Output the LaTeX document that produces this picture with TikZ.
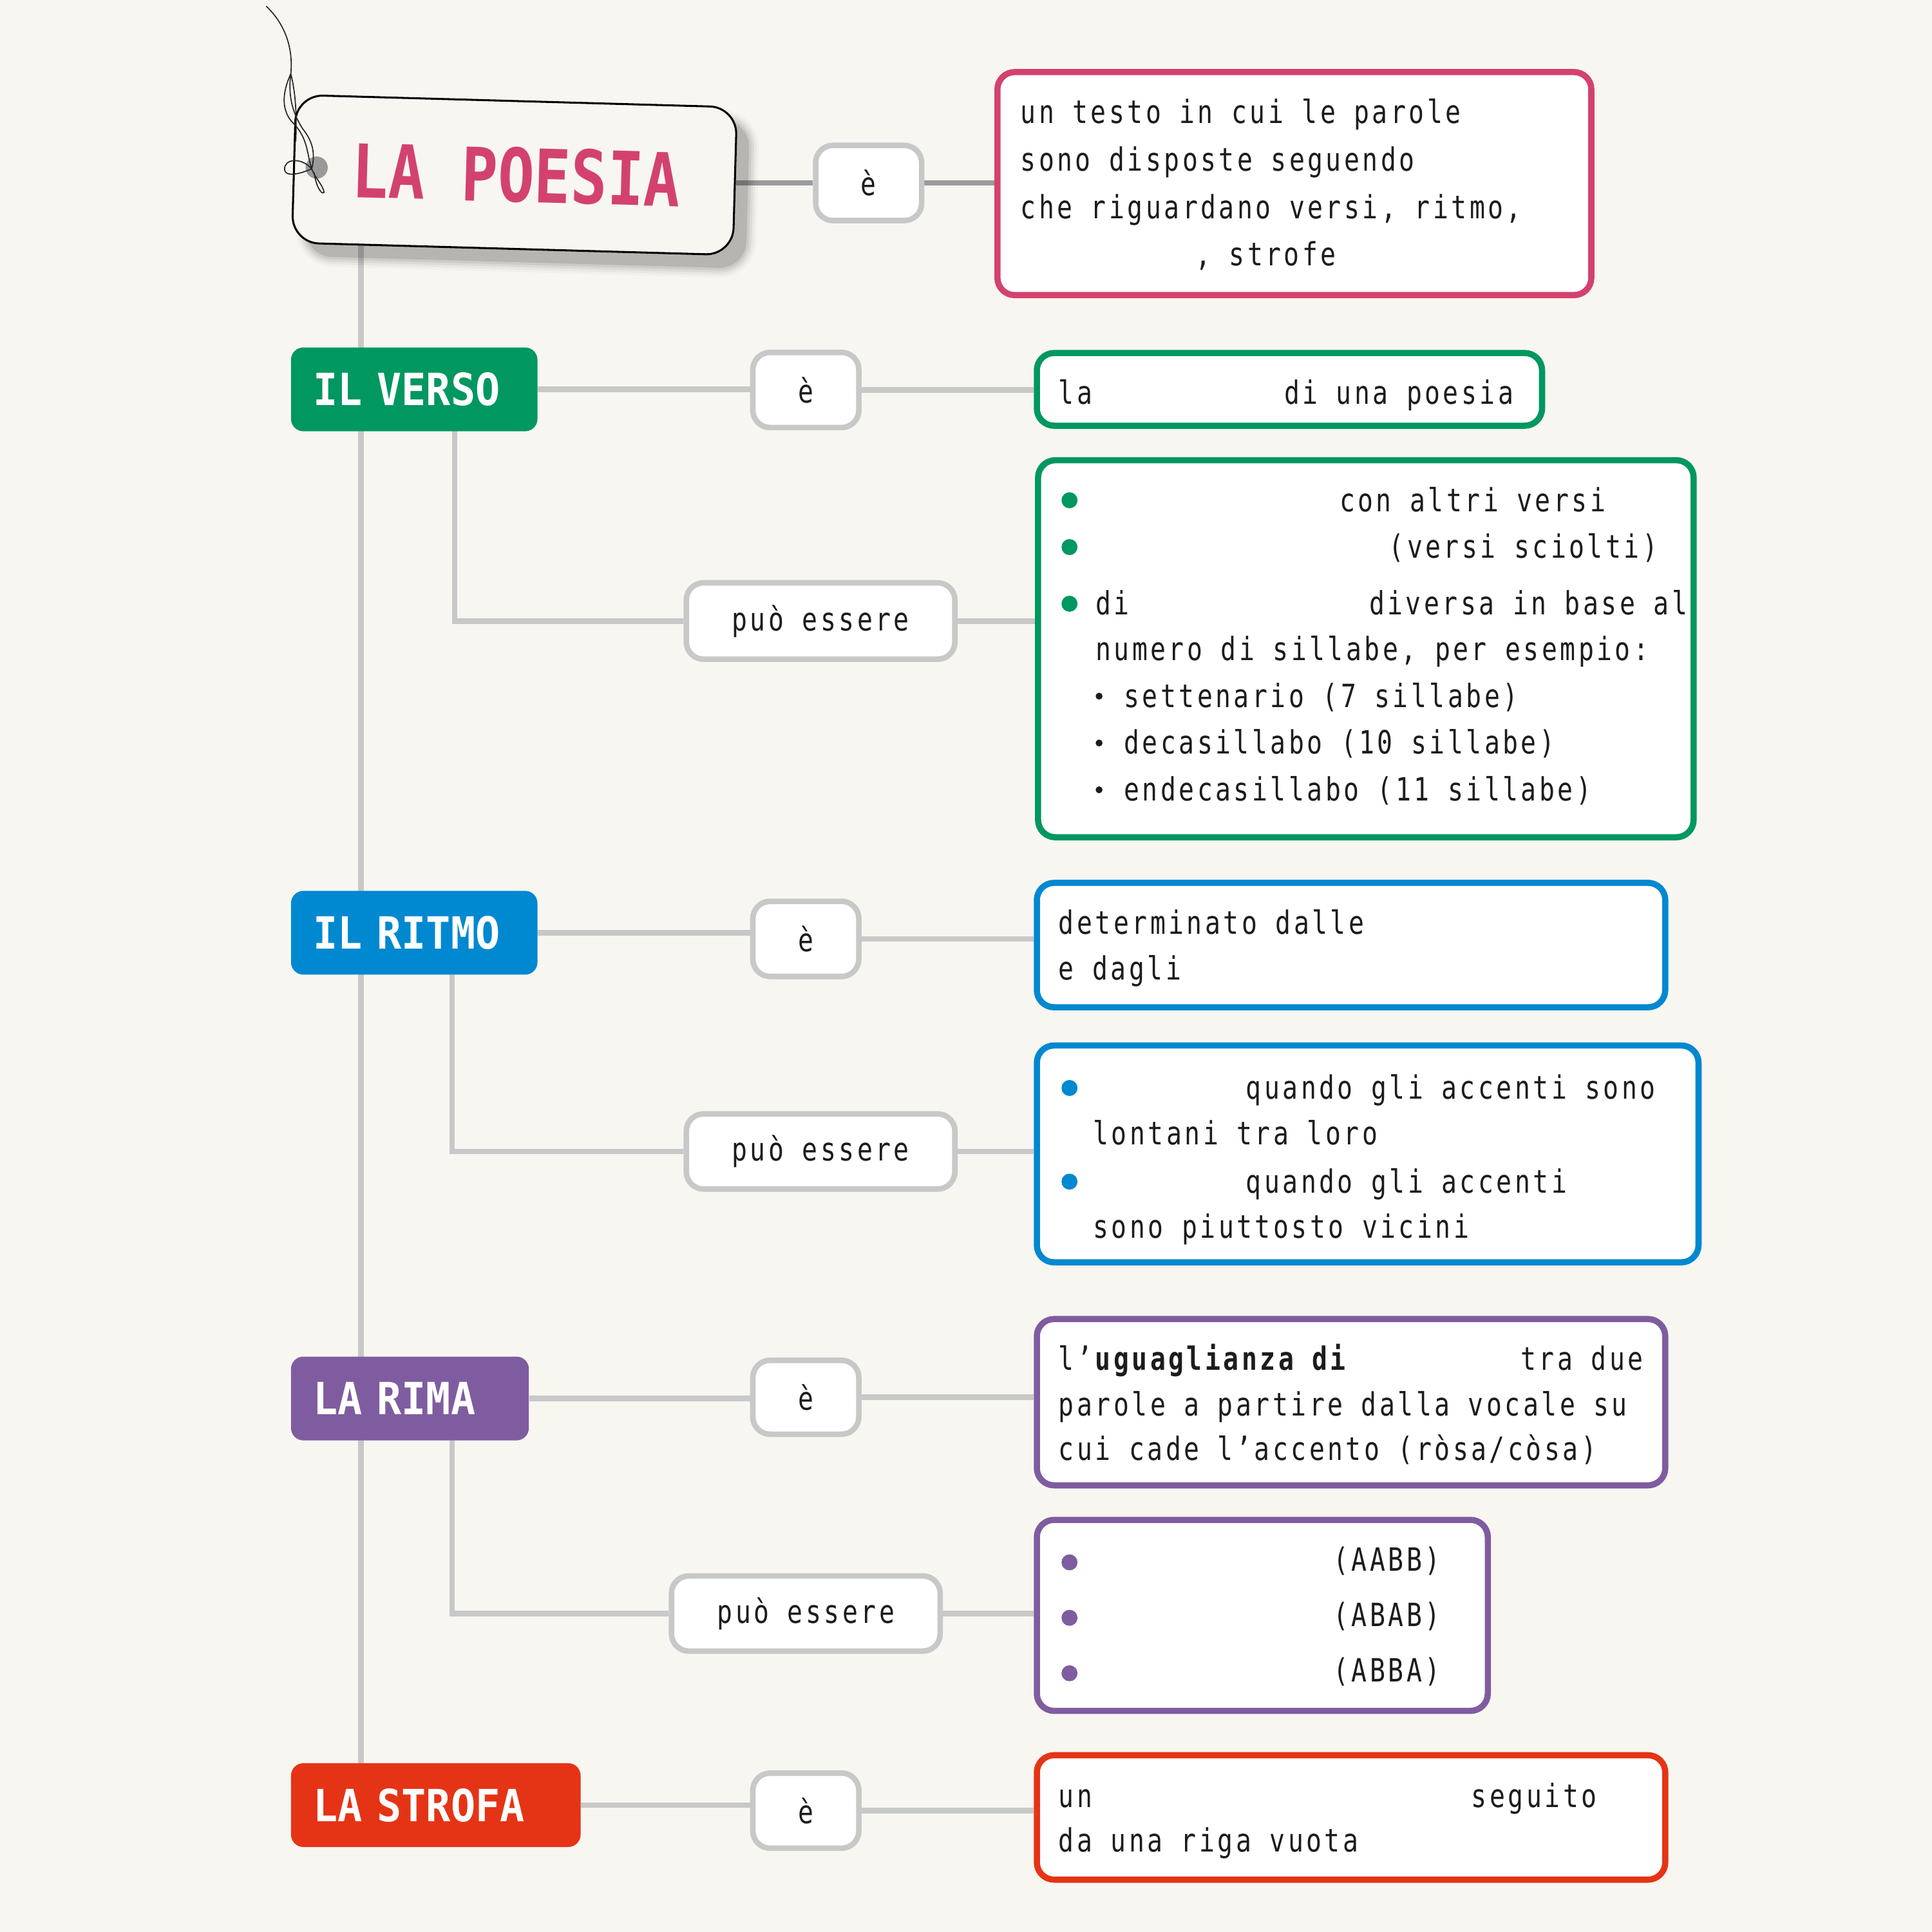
\documentclass[tikz,border=0pt]{standalone}
\usepackage{fontspec}
\setmainfont{DejaVu Sans Mono}
\newfontfamily\bodyf{DejaVu Sans Mono}[FakeStretch=0.8, LetterSpace=9]
\newfontfamily\headf{DejaVu Sans Mono}[FakeStretch=0.92]
\newfontfamily\titlef{DejaVu Sans Mono}[FakeStretch=0.82]
\usetikzlibrary{backgrounds}
\definecolor{bgc}{HTML}{F8F6F1}
\definecolor{pinkc}{HTML}{D3426F}
\definecolor{greenc}{HTML}{009760}
\definecolor{bluec}{HTML}{0088D0}
\definecolor{purplec}{HTML}{7F5CA0}
\definecolor{redc}{HTML}{E53415}
\definecolor{linec}{HTML}{C8C8C8}
\definecolor{tlinec}{HTML}{9B9B9B}
\definecolor{ink}{HTML}{1C1C1C}
\pgfdeclarelayer{back}
\pgfdeclarelayer{lines}
\pgfsetlayers{back,lines,main}
\tikzset{
  conn/.style={draw=linec, line width=4.5},
  tconn/.style={draw=tlinec, line width=4.5},
  ebox/.style={draw=linec, line width=4.5, fill=white, rounded corners=14, inner sep=0,
    font=\bodyf\fontsize{26}{30}\selectfont, text=ink},
  dbox/.style={draw=#1, line width=5, fill=white, rounded corners=14, inner sep=0},
  head/.style={fill=#1, rounded corners=10, inner xsep=18, inner ysep=0, anchor=west,
    minimum height=68, align=left, text=white, font=\headf\fontsize{36}{40}\selectfont\bfseries},
  txt/.style={anchor=base west, inner sep=0, text=ink, font=\bodyf\fontsize{26}{30}\selectfont},
  strng/.style={draw=black!85, line width=0.9},
}
\begin{document}
\begin{tikzpicture}[x=1pt,y=-1pt]
\begin{pgfonlayer}{back}
\fill[bgc] (0,0) rectangle (1568,1568);
\end{pgfonlayer}
\useasboundingbox (0,0) rectangle (1568,1568);

% ---- title tag with shadow
\foreach \s/\o in {0/0.10,4/0.07,8/0.05,12/0.035,16/0.025}
  \node[rotate=-1.6, minimum width=358+\s, minimum height=120+\s, rounded corners=22+\s/2,
        fill=black, opacity=\o, inner sep=0] at (428,153) {};
\node[rotate=-1.6, minimum width=358, minimum height=120, rounded corners=22, draw=black,
      line width=1.6, fill=bgc, inner sep=0, text=pinkc,
      font=\titlef\fontsize{60}{62}\selectfont\bfseries] (tag) at (417.5,142) {\hspace*{3pt}LA POESIA};
\fill[black!40] (257,136) circle[radius=9];
\draw[strng] (216,5) .. controls (232,20) and (238,40) .. (236,60)
  .. controls (234,75) and (236,90) .. (246,105) .. controls (254,115) and (256,125) .. (253,137);
\draw[strng] (236,60) .. controls (229,75) and (228,90) .. (238,100)
  .. controls (250,112) and (249,125) .. (253,137);
\draw[strng] (253,137) .. controls (244,127) and (230,129) .. (231,138)
  .. controls (232,144) and (244,141) .. (253,137);
\draw[strng] (253,137) .. controls (256,145) and (262,150) .. (263,156)
  .. controls (261,159) and (256,150) .. (255,140);
\draw[strng] (236,60) .. controls (240,75) and (241,95) .. (240,115);

% ---- è + definition of the poem
\node[ebox, minimum width=86, minimum height=61] (e0) at (705,148.5) {è};
\node[dbox=pinkc, minimum width=482, minimum height=181] (def0) at (1050.5,149) {};
\node[txt] (t01) at (828,100) {un testo in cui le parole};
\node[txt] (t02) at (828,138.6) {sono disposte seguendo};
\node[txt] (t03) at (828,177.2) {che riguardano versi, ritmo,};
\node[txt] (t04) at (970,215.8) {, strofe};

% ---- IL VERSO
\node[head=greenc, text width=164] (verso) at (236,316) {IL VERSO};
\node[ebox, minimum width=86, minimum height=61] (e1) at (654,316.5) {è};
\node[dbox=greenc, minimum width=410, minimum height=59] (d1) at (1046.5,316) {};
\node[txt] (t11) at (859,328) {la};
\node[txt] (t12) at (1042,328) {di una poesia};
\node[ebox, minimum width=218, minimum height=62] (p1) at (666,504) {può essere};
\node[dbox=greenc, minimum width=532, minimum height=306] (d2) at (1108.5,526.5) {};
\fill[greenc] (868,406) circle[radius=6.5];
\fill[greenc] (868,444) circle[radius=6.5];
\fill[greenc] (868,490) circle[radius=6.5];
\node[txt] (t21) at (1087,415) {con altri versi};
\node[txt] (t22) at (1127,453) {(versi sciolti)};
\node[txt] (t23) at (889,499) {di};
\node[txt] (t24) at (1111,499) {diversa in base al};
\node[txt] (t25) at (889,536) {numero di sillabe, per esempio:};
\fill[ink] (892,565) circle[radius=2.8];
\fill[ink] (892,603) circle[radius=2.8];
\fill[ink] (892,641) circle[radius=2.8];
\node[txt] (t26) at (912,574) {settenario (7 sillabe)};
\node[txt] (t27) at (912,612) {decasillabo (10 sillabe)};
\node[txt] (t28) at (912,650) {endecasillabo (11 sillabe)};

% ---- IL RITMO
\node[head=bluec, text width=164] (ritmo) at (236,757) {IL RITMO};
\node[ebox, minimum width=86, minimum height=61] (e2) at (654,762) {è};
\node[dbox=bluec, minimum width=510, minimum height=101] (d3) at (1096.5,767) {};
\node[txt] (t31) at (859,758) {determinato dalle};
\node[txt] (t32) at (859,795) {e dagli};
\node[ebox, minimum width=218, minimum height=61] (p2) at (666,934.5) {può essere};
\node[dbox=bluec, minimum width=537, minimum height=176] (d4) at (1110,936.5) {};
\fill[bluec] (868,883) circle[radius=6.5];
\fill[bluec] (868,959) circle[radius=6.5];
\node[txt] (t41) at (1011,892) {quando gli accenti sono};
\node[txt] (t42) at (887,929) {lontani tra loro};
\node[txt] (t43) at (1011,968) {quando gli accenti};
\node[txt] (t44) at (887,1005) {sono piuttosto vicini};

% ---- LA RIMA
\node[head=purplec, text width=157] (rima) at (236,1135) {LA RIMA};
\node[ebox, minimum width=86, minimum height=60] (e3) at (654,1134) {è};
\node[dbox=purplec, minimum width=510, minimum height=135] (d5) at (1096.5,1138) {};
\node[txt] (t51) at (859,1112) {l’\textbf{uguaglianza di}};
\node[txt] (t52) at (1234,1112) {tra due};
\node[txt] (t53) at (859,1149) {parole a partire dalla vocale su};
\node[txt] (t54) at (859,1185) {cui cade l’accento (ròsa/còsa)};
\node[ebox, minimum width=218, minimum height=61] (p3) at (654,1309.5) {può essere};
\node[dbox=purplec, minimum width=366, minimum height=155] (d6) at (1024.5,1311) {};
\fill[purplec] (868,1268) circle[radius=6.5];
\fill[purplec] (868,1313) circle[radius=6.5];
\fill[purplec] (868,1358) circle[radius=6.5];
\node[txt] (t61) at (1082,1275) {(AABB)};
\node[txt] (t62) at (1082,1320) {(ABAB)};
\node[txt] (t63) at (1082,1365) {(ABBA)};

% ---- LA STROFA
\node[head=redc, text width=199] (strofa) at (236,1465) {LA STROFA};
\node[ebox, minimum width=86, minimum height=61] (e4) at (654,1469.5) {è};
\node[dbox=redc, minimum width=510, minimum height=101] (d7) at (1096.5,1475) {};
\node[txt] (t71) at (859,1467) {un};
\node[txt] (t72) at (1194,1467) {seguito};
\node[txt] (t73) at (859,1503) {da una riga vuota};

% ---- connectors
\coordinate (sp) at (293,190);
\coordinate (b1) at (369,345);
\coordinate (b2) at (367,786);
\coordinate (b3) at (367,1164);
\begin{pgfonlayer}{lines}
\draw[tconn] (e0.west -| tag.east) -- (e0.west);
\draw[tconn] (e0.east) -- (e0.east -| def0.west);
\draw[conn] (sp) -- (sp |- strofa.north);
\draw[conn] (verso.east) -- (verso.east -| e1.west);
\draw[conn] (e1.east) -- (e1.east -| d1.west);
\draw[conn] (b1) |- (p1.west);
\draw[conn] (p1.east) -- (p1.east -| d2.west);
\draw[conn] (ritmo.east) -- (ritmo.east -| e2.west);
\draw[conn] (e2.east) -- (e2.east -| d3.west);
\draw[conn] (b2) |- (p2.west);
\draw[conn] (p2.east) -- (p2.east -| d4.west);
\draw[conn] (rima.east) -- (rima.east -| e3.west);
\draw[conn] (e3.east) -- (e3.east -| d5.west);
\draw[conn] (b3) |- (p3.west);
\draw[conn] (p3.east) -- (p3.east -| d6.west);
\draw[conn] (strofa.east) -- (strofa.east -| e4.west);
\draw[conn] (e4.east) -- (e4.east -| d7.west);
\end{pgfonlayer}
\end{tikzpicture}
\end{document}
